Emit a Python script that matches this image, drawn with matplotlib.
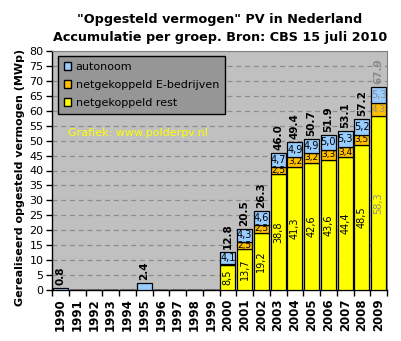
import matplotlib
matplotlib.use("Agg")
import matplotlib.pyplot as plt
from matplotlib.patches import Patch
import numpy as np

years = [str(y) for y in range(1990, 2010)]
rest = [0, 0, 0, 0, 0, 0, 0, 0, 0, 0, 8.5, 13.7, 19.2, 38.8, 41.3, 42.6, 43.6, 44.4, 48.5, 58.3]
ebedr = [0, 0, 0, 0, 0, 0, 0, 0, 0, 0, 0.2, 2.5, 2.5, 2.5, 3.2, 3.2, 3.3, 3.4, 3.5, 4.3]
auton = [0.8, 0, 0, 0, 0, 2.4, 0, 0, 0, 0, 4.1, 4.3, 4.6, 4.7, 4.9, 4.9, 5.0, 5.3, 5.2, 5.3]
totals = [0.8, None, None, None, None, 2.4, None, None, None, None,
          12.8, 20.5, 26.3, 46.0, 49.4, 50.7, 51.9, 53.1, 57.2, 67.9]

c_rest = "#FFFF00"
c_e = "#FFC000"
c_a = "#99CCFF"

fig = plt.figure(figsize=(4.01, 3.41), dpi=100)
fig.patch.set_facecolor("white")
ax = fig.add_axes([52/401, 1-290/341, 335/401, 239/341])
ax.set_facecolor("#C0C0C0")

x = np.arange(len(years))
w = 0.9
rest_a = np.array(rest)
e_a = np.array(ebedr)
a_a = np.array(auton)
ax.bar(x, rest_a, w, color=c_rest, edgecolor="black", linewidth=0.9, zorder=3)
ax.bar(x, e_a, w, bottom=rest_a, color=c_e, edgecolor="black", linewidth=0.9, zorder=3)
ax.bar(x, a_a, w, bottom=rest_a + e_a, color=c_a, edgecolor="black", linewidth=0.9, zorder=3)

def fmt(v):
    return f"{v:.1f}".replace(".", ",")

for i in range(len(years)):
    col = "#8C8C8C" if years[i] == "2009" else "black"
    if rest[i] > 0:
        ax.text(x[i], rest[i] / 2, fmt(rest[i]), rotation=90, ha="center", va="center",
                fontsize=7, color=col, zorder=6)
    if ebedr[i] >= 1:
        ax.text(x[i], rest[i] + ebedr[i] / 2, fmt(ebedr[i]), ha="center", va="center",
                fontsize=6.5, color=col, zorder=6)
    if auton[i] > 0 and rest[i] > 0:
        ax.text(x[i], rest[i] + ebedr[i] + auton[i] / 2, fmt(auton[i]), ha="center", va="center",
                fontsize=7, color=col, zorder=6)
    if totals[i] is not None:
        ax.text(x[i], totals[i] + 1.0, f"{totals[i]:.1f}", rotation=90, ha="center", va="bottom",
                fontsize=7.5, fontweight="bold", color=col, zorder=6)

ax.set_xlim(-0.5, len(years) - 0.5)
ax.set_ylim(0, 80)
ax.set_yticks(np.arange(0, 81, 5))
ax.yaxis.grid(True, linestyle=(0, (4, 3)), color="#8C8C8C", linewidth=0.9, zorder=1)
ax.set_xticks(x)
ax.set_xticklabels(years, rotation=90, fontsize=8.5, fontweight="bold")
ax.set_xticks(np.arange(-0.5, len(years), 1), minor=True)
ax.tick_params(axis="x", which="major", length=0, pad=6)
ax.tick_params(axis="x", which="minor", length=4, width=1, direction="out")
ax.tick_params(axis="y", length=4, width=1, labelsize=8, pad=2)
for s in ["top", "right"]:
    ax.spines[s].set_color("#808080")
for s in ["left", "bottom"]:
    ax.spines[s].set_color("black")
    ax.spines[s].set_linewidth(1)

ax.set_ylabel("Gerealiseerd opgesteld vermogen (MWp)", fontsize=8, fontweight="bold")
ax.yaxis.set_label_coords(-0.08, 0.47)

handles = [Patch(facecolor=c_a, edgecolor="black", label="autonoom"),
           Patch(facecolor=c_e, edgecolor="black", label="netgekoppeld E-bedrijven"),
           Patch(facecolor=c_rest, edgecolor="black", label="netgekoppeld rest")]
leg = ax.legend(handles=handles, loc="upper left", bbox_to_anchor=(0.018, 0.979), borderaxespad=0,
                fontsize=8, handlelength=0.7, handleheight=0.7, handletextpad=0.4,
                labelspacing=0.75, fancybox=False, framealpha=1, borderpad=0.5)
leg.get_frame().set_facecolor("#969696")
leg.get_frame().set_edgecolor("black")
leg.get_frame().set_linewidth(1)
leg.set_zorder(5)

ax.text(0.048, 0.657, "Grafiek: www.polderpv.nl", transform=ax.transAxes, color="#FFFF00",
        fontsize=8, va="center", ha="left", zorder=4)

fig.text(0.548, 1 - 20/341, "\"Opgesteld vermogen\" PV in Nederland", ha="center", va="center",
         fontsize=9.2, fontweight="bold")
fig.text(0.548, 1 - 37/341, "Accumulatie per groep. Bron: CBS 15 juli 2010", ha="center", va="center",
         fontsize=9.2, fontweight="bold")

fig.savefig("out.png", dpi=100, facecolor="white")
